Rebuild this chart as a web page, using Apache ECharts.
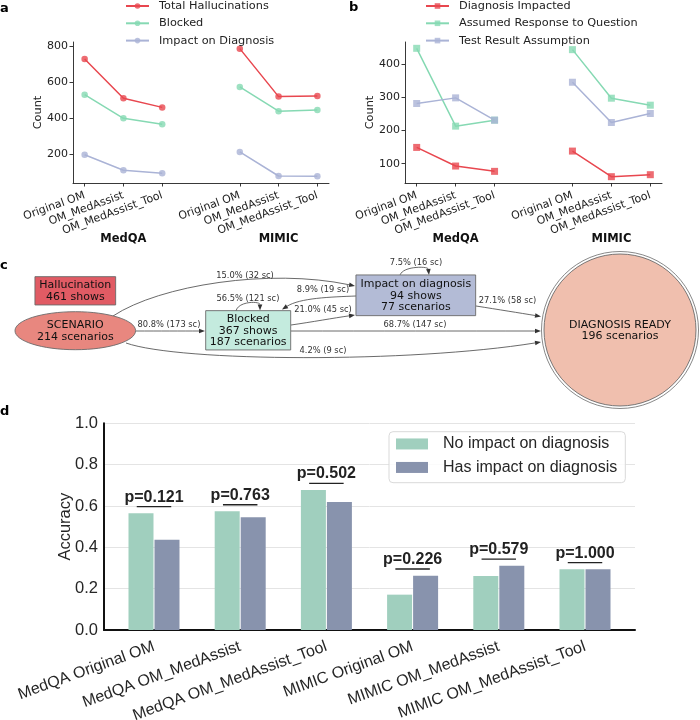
<!DOCTYPE html>
<html>
<head>
<meta charset="utf-8">
<script src="https://cdn.jsdelivr.net/npm/echarts@6/dist/echarts.min.js"></script>
<style>
  html, body { margin: 0; padding: 0; background: #fff; }
  #main { width: 700px; height: 720px; }
</style>
</head>
<body>
<div id="main"></div>
<script>
// ---------- data ----------
const stages = ['Original OM', 'OM_MedAssist', 'OM_MedAssist_Tool'];
const datasets = ['MedQA', 'MIMIC'];
const stageX = [[0, 1, 2], [4, 5, 6]];

// a: hallucination counts
const totalMedQA = [730, 512, 461];
const totalMIMIC = [788, 521, 525];
const blockedMedQA = [532, 400, 367];
const blockedMIMIC = [575, 440, 447];
const impactMedQA = [197, 111, 94];
const impactMIMIC = [213, 79, 77];
const countTicksA = [200, 400, 600, 800];

// b: hallucination types
const diagImpMedQA = [149, 93, 77];
const diagImpMIMIC = [138, 61, 67];
const assumedMedQA = [447, 213, 231];
const assumedMIMIC = [443, 297, 276];
const testResMedQA = [281, 298, 231];
const testResMIMIC = [345, 224, 251];
const countTicksB = [100, 200, 300, 400];

// c: flow diagram
const nodeNames = ['Hallucination', 'SCENARIO', 'Blocked', 'Impact on diagnosis', 'DIAGNOSIS READY'];
const nodeSubLines = [['461 shows'], ['214 scenarios'], ['367 shows', '187 scenarios'], ['94 shows', '77 scenarios'], ['196 scenarios']];
const edgeFrom = ['SCENARIO', 'SCENARIO', 'SCENARIO', 'Blocked', 'Blocked', 'Impact on diagnosis', 'Blocked', 'Impact on diagnosis', 'Impact on diagnosis'];
const edgeTo = ['Blocked', 'Impact on diagnosis', 'DIAGNOSIS READY', 'Blocked', 'Impact on diagnosis', 'Blocked', 'DIAGNOSIS READY', 'Impact on diagnosis', 'DIAGNOSIS READY'];
const edgePct = ['80.8', '15.0', '4.2', '56.5', '21.0', '8.9', '68.7', '7.5', '27.1'];
const edgeSc = [173, 32, 9, 121, 45, 19, 147, 16, 58];

// d: accuracy
const accCategories = ['MedQA Original OM', 'MedQA OM_MedAssist', 'MedQA OM_MedAssist_Tool',
  'MIMIC Original OM', 'MIMIC OM_MedAssist', 'MIMIC OM_MedAssist_Tool'];
const noImpactAcc = [0.565, 0.574, 0.677, 0.171, 0.261, 0.294];
const hasImpactAcc = [0.437, 0.545, 0.619, 0.263, 0.311, 0.294];
const pValues = ['0.121', '0.763', '0.502', '0.226', '0.579', '1.000'];

// ---------- layout / styles ----------
const RED = '#e8474f', GREEN = '#86d9b3', LAV = '#aab3d6';
const DJ = 'DejaVu Sans', LIB = 'Liberation Sans';

// diagram layout (pixel space of the hidden grid)
const nodeShape = ['rect', 'ellipse', 'rect', 'rect', 'doublecircle'];
const nodeCenter = [[75.3, 290.8], [75.3, 330.7], [248.2, 330.3], [415.8, 295.3], [620, 330]];
const nodeSize = [[80.7, 28.3], [120.6, 38], [85, 39.3], [119.7, 40.7], [152, 152]];
const nodeFill = ['#e15b64', '#e8877f', '#c4ebde', '#b3bbd6', '#f0bfae'];
// start, cp1, cp2, end
const edgeGeom = [
  [[136, 331], [159, 331], [182, 331], [205, 331]],
  [[113, 316], [160, 285], [270, 268], [355, 286]],
  [[126, 343], [180, 362], [410, 363], [541, 342]],
  [[236, 311], [238, 301], [260, 301], [260, 310.5]],
  [[291, 325], [312, 322], [334, 318], [355, 315]],
  [[356, 296], [330, 297], [300, 298], [282, 309.5]],
  [[291, 331], [375, 331], [458, 331], [541, 331]],
  [[400, 275.5], [402, 266], [428, 266], [429, 275]],
  [[476, 306], [498, 309.5], [520, 313], [541, 316.5]]
];
const edgeLabelPos = [[169, 325], [245, 276], [323, 350.5], [248, 298.5], [323, 310], [323, 290], [415, 325], [416, 262.5], [507.5, 301]];

function pairSeries(name, color, symbol, size, medqa, mimic, idx) {
  return [medqa, mimic].map((vals, k) => ({
    name: name, type: 'line', xAxisIndex: idx * 2, yAxisIndex: idx,
    data: vals.map((v, i) => [stageX[k][i], v]),
    symbol: symbol, symbolSize: size, showSymbol: true,
    lineStyle: { color: color, width: 1.5 },
    itemStyle: { color: color, opacity: 0.8 },
    emphasis: { disabled: true }
  }));
}

function stageAxis(gridIndex) {
  return {
    type: 'value', gridIndex, min: -0.3, max: 6.3, position: 'bottom',
    axisLine: { show: true, onZero: false, lineStyle: { color: '#222', width: 0.9 } },
    axisTick: { show: true, customValues: [0, 1, 2, 4, 5, 6], length: 3.5, lineStyle: { color: '#222', width: 0.9 } },
    axisLabel: { customValues: [0, 1, 2, 4, 5, 6], rotate: 20, fontSize: 11, color: '#222', margin: 12,
      formatter: v => stages[v % 4] },
    splitLine: { show: false }
  };
}
function groupAxis(gridIndex) {
  return {
    type: 'value', gridIndex, min: -0.3, max: 6.3, position: 'bottom',
    axisLine: { show: false, onZero: false }, axisTick: { show: false }, splitLine: { show: false },
    axisLabel: { customValues: [1, 5], formatter: v => datasets[v < 3 ? 0 : 1],
      fontWeight: 'bold', fontSize: 11.5, color: '#111', margin: 50 }
  };
}
function countAxis(gridIndex, min, max, ticks) {
  return {
    type: 'value', gridIndex, min, max,
    axisLine: { show: true, onZero: false, lineStyle: { color: '#222', width: 0.9 } },
    axisTick: { show: true, customValues: ticks, length: 3.5, lineStyle: { color: '#222', width: 0.9 } },
    axisLabel: { customValues: ticks, fontSize: 11, color: '#222', margin: 5 },
    splitLine: { show: false },
    name: 'Count', nameLocation: 'middle', nameGap: 29, nameRotate: 90, nameMoveOverlap: false,
    nameTextStyle: { fontSize: 11.3, color: '#222' }
  };
}

function renderEdge(params, api) {
  const i = params.dataIndex;
  const g = edgeGeom[i].map(p => api.coord(p));
  const end = g[3], cp = g[2];
  let dx = end[0] - cp[0], dy = end[1] - cp[1];
  const len = Math.sqrt(dx * dx + dy * dy) || 1;
  dx /= len; dy /= len;
  const al = 6, aw = 2.3;
  const bx = end[0] - dx * al, by = end[1] - dy * al;
  const lp = api.coord(edgeLabelPos[i]);
  return {
    type: 'group', children: [
      { type: 'bezierCurve',
        shape: { x1: g[0][0], y1: g[0][1], cpx1: g[1][0], cpy1: g[1][1], cpx2: g[2][0], cpy2: g[2][1], x2: bx, y2: by },
        style: { stroke: '#444', lineWidth: 0.8, fill: null } },
      { type: 'polygon',
        shape: { points: [[end[0], end[1]], [bx - dy * aw, by + dx * aw], [bx + dy * aw, by - dx * aw]] },
        style: { fill: '#333' } },
      { type: 'text', x: lp[0], y: lp[1],
        style: { text: edgePct[i] + '% (' + edgeSc[i] + ' sc)', fontSize: 8.3, fontFamily: DJ,
          fill: '#333', align: 'center', verticalAlign: 'middle' } }
    ]
  };
}

function renderNode(params, api) {
  const i = params.dataIndex;
  const c = api.coord(nodeCenter[i]);
  const e = api.coord([nodeCenter[i][0] + nodeSize[i][0] / 2, nodeCenter[i][1] + nodeSize[i][1] / 2]);
  const hw = Math.abs(e[0] - c[0]), hh = Math.abs(e[1] - c[1]);
  const border = { stroke: '#6a6a6a', lineWidth: 0.9 };
  const children = [];
  if (nodeShape[i] === 'rect') {
    children.push({ type: 'rect', shape: { x: c[0] - hw, y: c[1] - hh, width: hw * 2, height: hh * 2 },
      style: Object.assign({ fill: nodeFill[i] }, border) });
  } else if (nodeShape[i] === 'ellipse') {
    children.push({ type: 'ellipse', shape: { cx: c[0], cy: c[1], rx: hw, ry: hh },
      style: Object.assign({ fill: nodeFill[i] }, border) });
  } else {
    children.push({ type: 'circle', shape: { cx: c[0], cy: c[1], r: hw + 2.5 },
      style: { fill: null, stroke: '#6a6a6a', lineWidth: 0.8 } });
    children.push({ type: 'circle', shape: { cx: c[0], cy: c[1], r: hw },
      style: Object.assign({ fill: nodeFill[i] }, border) });
  }
  children.push({ type: 'text', x: c[0], y: c[1] + 0.5,
    style: { text: [nodeNames[i]].concat(nodeSubLines[i]).join('\n'), fontSize: 11, lineHeight: 11.7,
      fontFamily: DJ, fill: '#111', align: 'center', verticalAlign: 'middle' } });
  return { type: 'group', children };
}

function panelLetter(t, x, y) {
  return { type: 'text', x, y, style: { text: t, fontSize: 13, fontWeight: 'bold', fontFamily: DJ,
    fill: '#000', verticalAlign: 'middle' } };
}

const option = {
  animation: false,
  textStyle: { fontFamily: DJ },
  grid: [
    { left: 73, top: 42, width: 256, height: 141, outerBoundsMode: 'none' },
    { left: 405, top: 42, width: 257, height: 141, outerBoundsMode: 'none' },
    { left: 104, top: 423.3, width: 531, height: 206.7, outerBoundsMode: 'none' },
    { left: 0, top: 0, width: 700, height: 720, outerBoundsMode: 'none' }
  ],
  xAxis: [
    stageAxis(0), groupAxis(0), stageAxis(1), groupAxis(1),
    {
      type: 'value', gridIndex: 2, min: -0.58, max: 5.58,
      axisLine: { show: true, onZero: false, lineStyle: { color: '#111', width: 2 } },
      axisTick: { show: false }, splitLine: { show: false },
      axisLabel: { customValues: [0, 1, 2, 3, 4, 5], formatter: v => accCategories[v], rotate: 20,
        fontSize: 16, fontFamily: LIB, color: '#262626', margin: 16 }
    },
    { type: 'value', gridIndex: 3, min: 0, max: 700, show: false }
  ],
  yAxis: [
    countAxis(0, 40, 825, countTicksA),
    countAxis(1, 42, 466, countTicksB),
    {
      type: 'value', gridIndex: 2, min: 0, max: 1, interval: 0.2,
      axisLine: { show: true, onZero: false, lineStyle: { color: '#111', width: 2 } },
      axisTick: { show: false },
      axisLabel: { formatter: v => v.toFixed(1), fontSize: 16.5, fontFamily: LIB, color: '#262626', margin: 6 },
      splitLine: { show: true, lineStyle: { color: '#e4e4e4', width: 1 } },
      name: 'Accuracy', nameLocation: 'middle', nameGap: 30, nameRotate: 90, nameMoveOverlap: false,
      nameTextStyle: { fontSize: 16.5, fontFamily: LIB, color: '#262626' }
    },
    { type: 'value', gridIndex: 3, min: 0, max: 720, inverse: true, show: false }
  ],
  legend: [
    {
      data: ['Total Hallucinations', 'Blocked', 'Impact on Diagnosis'],
      orient: 'vertical', left: 125, top: -1, padding: 0, itemWidth: 23, itemHeight: 7, itemGap: 3.3,
      textStyle: { fontSize: 11.3, color: '#222', lineHeight: 14, padding: [0, 0, 0, 5] }
    },
    {
      data: ['Diagnosis Impacted', 'Assumed Response to Question', 'Test Result Assumption'],
      orient: 'vertical', left: 425, top: -1, padding: 0, itemWidth: 23, itemHeight: 7, itemGap: 3.3,
      textStyle: { fontSize: 11.3, color: '#222', lineHeight: 14, padding: [0, 0, 0, 5] }
    },
    {
      data: ['No impact on diagnosis', 'Has impact on diagnosis'],
      orient: 'vertical', left: 389, top: 431.7, padding: [4, 8, 7, 7],
      itemWidth: 32, itemHeight: 11, itemGap: 7, icon: 'rect',
      backgroundColor: 'rgba(255,255,255,0.85)', borderColor: '#d9d9d9', borderWidth: 1, borderRadius: 4,
      textStyle: { fontSize: 16, fontFamily: LIB, color: '#262626', lineHeight: 16.5, padding: [0, 0, 0, 10] }
    }
  ],
  graphic: [
    panelLetter('a', 0, 9), panelLetter('b', 349, 8),
    panelLetter('c', 0, 265.5), panelLetter('d', 0, 412)
  ],
  series: [
    ...pairSeries('Total Hallucinations', RED, 'circle', 6.5, totalMedQA, totalMIMIC, 0),
    ...pairSeries('Blocked', GREEN, 'circle', 6.5, blockedMedQA, blockedMIMIC, 0),
    ...pairSeries('Impact on Diagnosis', LAV, 'circle', 6.5, impactMedQA, impactMIMIC, 0),
    ...pairSeries('Diagnosis Impacted', RED, 'rect', 7, diagImpMedQA, diagImpMIMIC, 1),
    ...pairSeries('Assumed Response to Question', GREEN, 'rect', 7, assumedMedQA, assumedMIMIC, 1),
    ...pairSeries('Test Result Assumption', LAV, 'rect', 7, testResMedQA, testResMIMIC, 1),
    {
      name: 'No impact on diagnosis', type: 'bar', xAxisIndex: 4, yAxisIndex: 2,
      data: noImpactAcc.map((v, i) => [i, v]), barWidth: 25, barGap: '4%',
      itemStyle: { color: '#a0cfbe' }, emphasis: { disabled: true }
    },
    {
      name: 'Has impact on diagnosis', type: 'bar', xAxisIndex: 4, yAxisIndex: 2,
      data: hasImpactAcc.map((v, i) => [i, v]), barWidth: 25, barGap: '4%',
      itemStyle: { color: '#8893ad' }, emphasis: { disabled: true }
    },
    {
      type: 'custom', xAxisIndex: 4, yAxisIndex: 2, z: 5,
      data: pValues.map((p, i) => [i, Math.max(noImpactAcc[i], hasImpactAcc[i])]),
      renderItem: (params, api) => {
        const x = api.value(0), y0 = api.value(1) + 0.032;
        const a = api.coord([x - 0.2, y0]), b = api.coord([x + 0.2, y0]);
        return { type: 'group', children: [
          { type: 'line', shape: { x1: a[0], y1: a[1], x2: b[0], y2: b[1] }, style: { stroke: '#222', lineWidth: 1.3 } },
          { type: 'text', x: (a[0] + b[0]) / 2, y: a[1] - 1.5,
            style: { text: 'p=' + pValues[params.dataIndex], fontSize: 16, fontWeight: 'bold', fontFamily: LIB,
              fill: '#222', align: 'center', verticalAlign: 'bottom' } }
        ] };
      }
    },
    {
      type: 'custom', xAxisIndex: 5, yAxisIndex: 3, z: 2,
      data: edgeFrom.map((f, i) => [edgeGeom[i][0][0], edgeGeom[i][0][1]]),
      renderItem: renderEdge
    },
    {
      type: 'custom', xAxisIndex: 5, yAxisIndex: 3, z: 3,
      data: nodeCenter.map(c => [c[0], c[1]]),
      renderItem: renderNode
    }
  ]
};

const chart = echarts.init(document.getElementById('main'));
chart.setOption(option);
</script>
</body>
</html>
